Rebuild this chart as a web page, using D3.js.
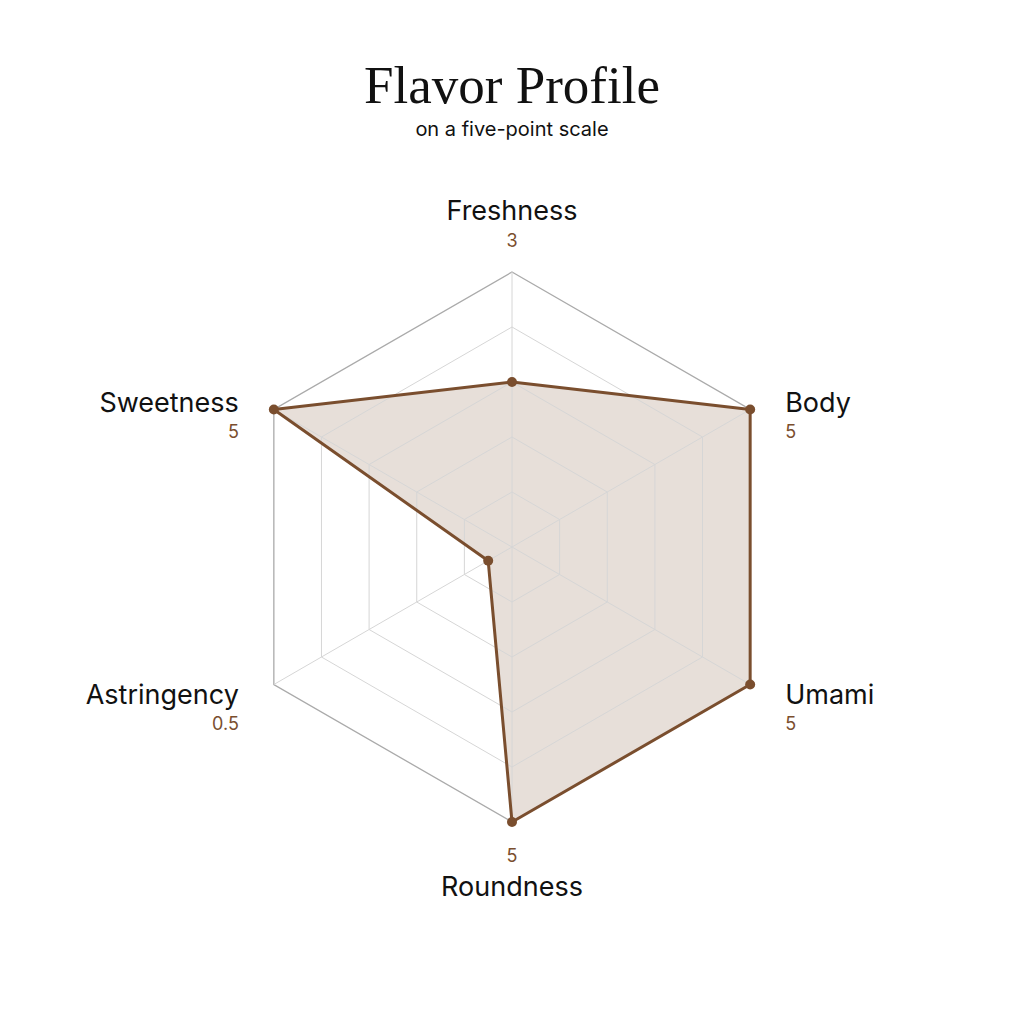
<!DOCTYPE html>
<html>
<head>
<meta charset="utf-8">
<title>Flavor Profile</title>
<script src="https://cdn.jsdelivr.net/npm/d3@7"></script>
<style>
  body { margin: 0; background: #fff; }
  svg { display: block; }
</style>
</head>
<body>
<script>
// data
const categories = ["Freshness", "Body", "Umami", "Roundness", "Astringency", "Sweetness"];
const values = [3, 5, 5, 5, 0.5, 5];
const levels = [1, 2, 3, 4, 5];
const maxValue = 5;

const w = 1024, h = 1024;
const cx = 512, cy = 547, R = 275;
const brown = "#7a4e2e";

const svg = d3.select("body").append("svg")
  .attr("width", w)
  .attr("height", h);

// title
svg.append("text")
  .attr("x", w / 2)
  .attr("y", 103)
  .attr("text-anchor", "middle")
  .attr("font-family", "'Liberation Serif', serif")
  .attr("font-size", "53px")
  .attr("fill", "#111")
  .text("Flavor Profile");

svg.append("text")
  .attr("x", w / 2)
  .attr("y", 136)
  .attr("text-anchor", "middle")
  .attr("font-family", "Inter, sans-serif")
  .attr("font-size", "20px")
  .attr("fill", "#111")
  .text("on a five-point scale");

const rScale = d3.scaleLinear().domain([0, maxValue]).range([0, R]);
const angle = d3.scalePoint().domain(categories).range([0, 2 * Math.PI * (categories.length - 1) / categories.length]);

function pt(cat, v) {
  const a = angle(cat);
  return [cx + rScale(v) * Math.sin(a), cy - rScale(v) * Math.cos(a)];
}

const g = svg.append("g");

// data area (drawn first, grid shows through it)
const area = categories.map((c, i) => pt(c, values[i]));
g.append("polygon")
  .attr("points", area.map(p => p.join(",")).join(" "))
  .attr("fill", brown)
  .attr("fill-opacity", 0.18);

// grid rings
g.selectAll(".ring")
  .data(levels)
  .enter()
  .append("polygon")
  .attr("points", d => categories.map(c => pt(c, d).join(",")).join(" "))
  .attr("fill", "none")
  .attr("stroke", d => d === maxValue ? "#aaaaaa" : "#d6d6d6")
  .attr("stroke-width", d => d === maxValue ? 1.3 : 1);

// spokes
g.selectAll(".spoke")
  .data(categories)
  .enter()
  .append("line")
  .attr("x1", cx).attr("y1", cy)
  .attr("x2", d => pt(d, maxValue)[0])
  .attr("y2", d => pt(d, maxValue)[1])
  .attr("stroke", "#d6d6d6")
  .attr("stroke-width", 1);

// outline
g.append("polygon")
  .attr("points", area.map(p => p.join(",")).join(" "))
  .attr("fill", "none")
  .attr("stroke", brown)
  .attr("stroke-width", 3)
  .attr("stroke-linejoin", "round");

g.selectAll(".dot")
  .data(area)
  .enter()
  .append("circle")
  .attr("cx", d => d[0])
  .attr("cy", d => d[1])
  .attr("r", 5)
  .attr("fill", brown);

// labels
categories.forEach((c, i) => {
  const a = angle(c);
  const dx = Math.sin(a), dy = -Math.cos(a);
  const [vx, vy] = pt(c, maxValue);
  let lx, ly, nx, ny, anchor;
  if (Math.abs(dx) < 0.01) {
    anchor = "middle";
    lx = nx = vx;
    if (dy < 0) { ly = vy - 52; ny = vy - 25; }
    else { ny = vy + 40; ly = vy + 74; }
  } else {
    anchor = dx > 0 ? "start" : "end";
    lx = nx = vx + (dx > 0 ? 35 : -35);
    ly = vy + 11 + 17 * dy;
    ny = ly + 26;
  }
  svg.append("text")
    .attr("x", lx).attr("y", ly)
    .attr("text-anchor", anchor)
    .attr("font-family", "Inter, sans-serif")
    .attr("font-size", "27px")
    .attr("fill", "#111")
    .text(c);
  svg.append("text")
    .attr("x", nx).attr("y", ny)
    .attr("text-anchor", anchor)
    .attr("font-family", "Inter, sans-serif")
    .attr("font-size", "18px")
    .attr("fill", brown)
    .text(values[i]);
});
</script>
</body>
</html>
